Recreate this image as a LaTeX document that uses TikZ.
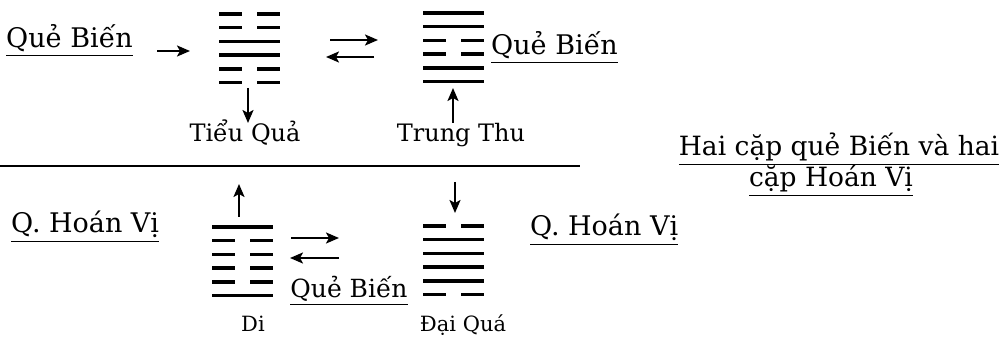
\documentclass[tikz,border=0pt]{standalone}
\usepackage{fontspec}
\setmainfont{DejaVu Serif}
\usetikzlibrary{arrows.meta}
\newcommand{\myul}[1]{\leavevmode\vtop{\hbox{#1}\kern2.5pt\hrule height 1.3pt}}
\tikzset{
  hexline/.style={line width=3.6pt},
  arr/.style={line width=2.2pt,-{Stealth[length=13pt,width=11pt,inset=3pt]}},
  big/.style={inner sep=0,anchor=base west,font=\fontsize{27}{32}\selectfont},
  mid/.style={inner sep=0,anchor=base,font=\fontsize{24}{28}\selectfont},
  small/.style={inner sep=0,anchor=base,font=\fontsize{21}{24}\selectfont},
  ttl/.style={inner sep=0,anchor=base,font=\fontsize{26.5}{31}\selectfont},
  hexbox/.style={inner sep=0,minimum width=61pt,minimum height=72pt,anchor=north west}
}
\newcommand{\hexa}[4]{%
  \node[hexbox] (#1) at (#2,-#3+2) {};
  \foreach \v [count=\i from 0] in {#4}{
    \pgfmathsetmacro\yy{-#3-\i*13.7}
    \ifnum\v=1
      \draw[hexline] (#2,\yy) -- ++(61,0);
    \else
      \draw[hexline] (#2,\yy) -- ++(23,0) (#2+38,\yy) -- ++(23,0);
    \fi
  }}
\begin{document}
\begin{tikzpicture}[x=1pt,y=1pt]
\useasboundingbox[fill=white] (0,0) rectangle (1003,-347);
% hexagrams
\hexa{tq}{219}{14}{0,0,1,1,0,0}
\hexa{tp}{423}{13}{1,1,0,0,1,1}
\hexa{di}{212}{227}{1,0,0,0,0,1}
\hexa{dq}{423}{226}{0,1,1,1,1,0}
% labels
\node[big] (qb1) at (6,-48) {\myul{Quẻ Biến}};
\node[big] (qb2) at (491,-55) {\myul{Quẻ Biến}};
\node[mid] (tql) at (245,-142) {Tiểu Quả};
\node[mid] (tpl) at (461,-142) {Trung Thu};
\node[big] (hv1) at (11,-233) {\myul{Q. Hoán Vị}};
\node[big] (hv2) at (530,-236) {\myul{Q. Hoán Vị}};
\node[inner sep=0,anchor=base,font=\fontsize{25}{30}\selectfont] (qb3) at (349,-297) {\myul{Quẻ Biến}};
\node[small] (dil) at (253,-331) {Di};
\node[small] (dql) at (463,-331) {Đại Quá};
\node[ttl] (title1) at (839,-156) {\myul{Hai cặp quẻ Biến và hai}};
\node[ttl] (title2) at (831,-187) {\myul{cặp Hoán Vị}};
% separator
\coordinate (s1) at (0,-166);
\coordinate (s2) at (580,-166);
\draw[line width=1.1pt] (s1) -- (s2);
% arrows
\coordinate (a1) at (157,-51);
\coordinate (a2) at (190,-51);
\draw[arr] (a1) -- (a2);
\coordinate (b1) at (330,-40);
\coordinate (b2) at (378,-40);
\draw[arr] (b1) -- (b2);
\coordinate (c1) at (374,-57);
\coordinate (c2) at (326,-57);
\draw[arr] (c1) -- (c2);
\coordinate (d1) at (248,-88);
\coordinate (d2) at (248,-123);
\draw[arr] (d1) -- (d2);
\coordinate (e1) at (453,-123);
\coordinate (e2) at (453,-88);
\draw[arr] (e1) -- (e2);
\coordinate (f1) at (239,-217);
\coordinate (f2) at (239,-184);
\draw[arr] (f1) -- (f2);
\coordinate (g1) at (455,-182);
\coordinate (g2) at (455,-213);
\draw[arr] (g1) -- (g2);
\coordinate (h1) at (291,-238);
\coordinate (h2) at (339,-238);
\draw[arr] (h1) -- (h2);
\coordinate (k1) at (339,-258);
\coordinate (k2) at (290,-258);
\draw[arr] (k1) -- (k2);
\end{tikzpicture}
\end{document}
